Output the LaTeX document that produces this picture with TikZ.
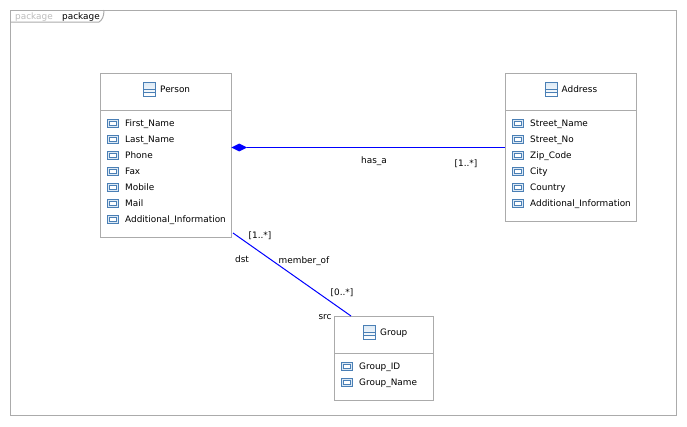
\documentclass[tikz,border=0pt]{standalone}
\usepackage{fontspec}
\setmainfont{DejaVu Sans}
\usetikzlibrary{shapes.geometric,calc}
\definecolor{framegray}{HTML}{ABABAB}
\definecolor{iconblue}{HTML}{4A7FB5}
\definecolor{iconfill}{HTML}{DCE9F5}
\tikzset{
  classbox/.style={draw=framegray, line width=1pt, fill=white, anchor=north west, inner sep=0pt},
  classicon/.style={draw=iconblue, line width=0.8pt, top color=iconfill, bottom color=white, minimum width=12pt, minimum height=14pt, inner sep=0pt},
  attricon/.style={draw=iconblue, line width=1pt, fill=iconfill, minimum width=11.5pt, minimum height=8pt, inner sep=0pt},
  attrinner/.style={draw=iconblue, line width=0.6pt, fill=white, minimum width=7pt, minimum height=4pt, inner sep=0pt},
  lbl/.style={font=\fontsize{8.9pt}{10pt}\selectfont, text height=7pt, text depth=2pt, inner sep=0pt},
  assoc/.style={draw=blue, line width=1pt},
  composite/.style={diamond, fill=blue, aspect=2.2, minimum width=16pt, minimum height=8pt, inner sep=0pt}
}
% one class: name, x, y, width, height, title, icon x, attribute list
\newcommand{\umlclass}[8]{
  \node[classbox, minimum width=#4pt, minimum height=#5pt] (#1) at (#2,#3) {};
  \draw[framegray, line width=1pt] ($(#1.north west)+(0,37)$) coordinate (#1-a) -- (#1-a -| #1.east);
  \node[classicon] (#1-icon) at (#7,#3+16) {};
  \draw[iconblue, line width=0.8pt] ([yshift=-3pt]#1-icon.west) -- ([yshift=-3pt]#1-icon.east);
  \draw[iconblue, line width=0.8pt] ([yshift=-0.5pt]#1-icon.west) -- ([yshift=-0.5pt]#1-icon.east);
  \node[lbl, anchor=west] (#1-name) at (#7+10.5,#3+17) {#6};
  \foreach \attrname [count=\i from 0] in {#8} {
    \node[attricon] (#1-icon-\i) at (#2+13,#3+50+16*\i) {};
    \node[attrinner] (#1-inner-\i) at (#1-icon-\i) {};
    \node[lbl, anchor=west] (#1-attr-\i) at (#2+25,#3+50.5+16*\i) {\attrname};
  }
}
\begin{document}
\begin{tikzpicture}[x=1pt, y=-1pt]
  \useasboundingbox (0,0) rectangle (687,426);

  % package frame
  \node[draw=framegray, line width=1pt, minimum width=666pt, minimum height=405pt, anchor=north west, inner sep=0pt] (frame) at (10,10) {};
  \draw[framegray, line width=1pt] (frame.north west |- 0,22) -- (99,22) .. controls (102,20) and (104,17) .. (104,10);
  \node[lbl, anchor=west, text=framegray!80] (kind) at (15,17) {package};
  \node[lbl, anchor=west] (pkgname) at (62,17) {package};

  % classes
  \umlclass{person}{100}{73}{131}{164}{Person}{149.5}{First\_Name, Last\_Name, Phone, Fax, Mobile, Mail, Additional\_Information}
  \umlclass{address}{505}{73}{131}{148}{Address}{551}{Street\_Name, Street\_No, Zip\_Code, City, Country, Additional\_Information}
  \umlclass{group}{334}{316}{99}{84}{Group}{369.5}{Group\_ID, Group\_Name}

  % associations
  \node[composite, anchor=west] (hasa-tip) at (231,147.5) {};
  \coordinate (member-dst) at (233,233);
  \coordinate (member-src) at (351,316);
  \draw[assoc, line width=1.2pt] (hasa-tip) -- (hasa-tip -| address.west);
  \draw[assoc] (member-dst) -- (member-src);

  % association labels
  \node[lbl] (hasa) at (374,161) {has\_a};
  \node[lbl] (hasa-mult) at (466,164) {[1..*]};
  \node[lbl] (dst-mult) at (260,236) {[1..*]};
  \node[lbl] (dst) at (242,260) {dst};
  \node[lbl] (member) at (304,261) {member\_of};
  \node[lbl] (src-mult) at (342,293) {[0..*]};
  \node[lbl] (src) at (325,317) {src};
\end{tikzpicture}
\end{document}
